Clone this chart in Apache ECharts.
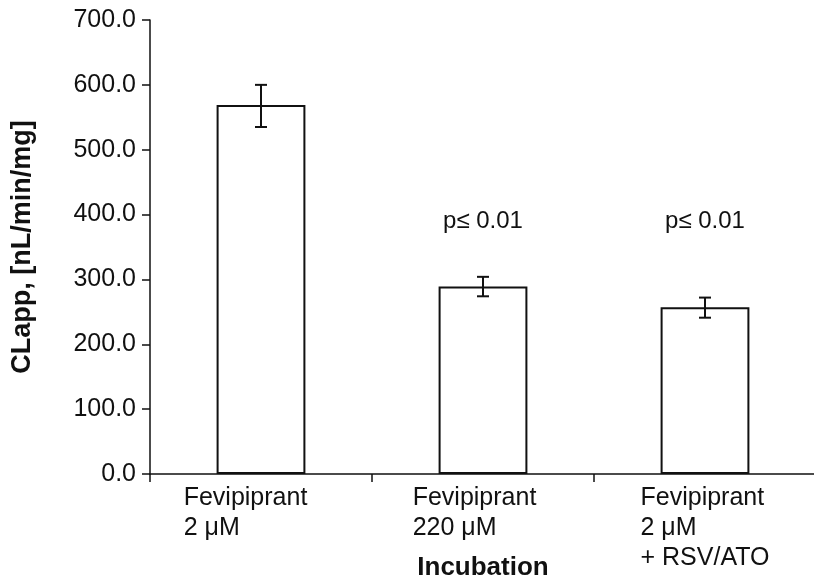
<!DOCTYPE html>
<html>
<head>
<meta charset="utf-8">
<script src="https://cdn.jsdelivr.net/npm/echarts@6/dist/echarts.min.js"></script>
<style>html,body{margin:0;padding:0;background:#fff}#c{width:814px;height:587px}</style>
</head>
<body>
<div id="c"></div>
<script>
const categories = ['Fevipiprant\n2 μM', 'Fevipiprant\n220 μM', 'Fevipiprant\n2 μM\n+ RSV/ATO'];
const values = [569, 289, 257];
const errLow = [535, 274, 241];
const errHigh = [600, 304, 272];
const pLabels = ['', 'p≤ 0.01', 'p≤ 0.01'];
const pLabelValue = 390;
const yTicks = [0, 100, 200, 300, 400, 500, 600, 700];

const FONT = '"Liberation Sans", Arial, sans-serif';
const chart = echarts.init(document.getElementById('c'));
const padR = [31, 17, 0];
const rich = {};
padR.forEach((p, i) => {
  rich['c' + i] = { fontSize: 25, lineHeight: 30, fontFamily: FONT, color: '#111', align: 'left', padding: [0, p, 0, 0] };
});

chart.setOption({
  animation: false,
  grid: { left: 150, right: -2, top: 20, bottom: 113, outerBoundsMode: 'none', containLabel: false },
  xAxis: {
    type: 'category',
    data: categories,
    name: 'Incubation',
    nameLocation: 'middle',
    nameGap: 81,
    nameMoveOverlap: false,
    nameTextStyle: { fontSize: 26, fontWeight: 'bold', fontFamily: FONT, color: '#111' },
    axisLine: { lineStyle: { color: '#111', width: 1.5 } },
    axisTick: { show: true, length: 8, lineStyle: { color: '#111', width: 1.5 } },
    axisLabel: {
      interval: 0,
      margin: 9,
      align: 'center',
      formatter: (v, i) => v.split('\n').map(s => '{c' + i + '|' + s + '}').join('\n'),
      rich: rich
    }
  },
  yAxis: {
    type: 'value',
    min: yTicks[0],
    max: yTicks[yTicks.length - 1],
    interval: 100,
    name: 'CLapp, [nL/min/mg]',
    nameLocation: 'middle',
    nameGap: 114,
    nameMoveOverlap: false,
    nameTextStyle: { fontSize: 27, fontWeight: 'bold', fontFamily: FONT, color: '#111' },
    splitLine: { show: false },
    axisLine: { show: true, lineStyle: { color: '#111', width: 1.5 } },
    axisTick: { show: true, length: 8, lineStyle: { color: '#111', width: 1.5 } },
    axisLabel: {
      margin: 14,
      fontSize: 25,
      fontFamily: FONT,
      color: '#111',
      formatter: v => v.toFixed(1)
    }
  },
  series: [
    {
      type: 'bar',
      data: values,
      barWidth: '40%',
      itemStyle: { color: '#fff', borderColor: '#111', borderWidth: 2 }
    },
    {
      type: 'custom',
      data: values.map((v, i) => [i, errLow[i], errHigh[i]]),
      renderItem: function (params, api) {
        const x = api.coord([api.value(0), 0])[0];
        const lo = api.coord([api.value(0), api.value(1)])[1];
        const hi = api.coord([api.value(0), api.value(2)])[1];
        const hw = 6;
        const st = { stroke: '#111', lineWidth: 2 };
        return {
          type: 'group',
          children: [
            { type: 'line', shape: { x1: x, y1: lo, x2: x, y2: hi }, style: st },
            { type: 'line', shape: { x1: x - hw, y1: lo, x2: x + hw, y2: lo }, style: st },
            { type: 'line', shape: { x1: x - hw, y1: hi, x2: x + hw, y2: hi }, style: st }
          ]
        };
      },
      z: 5
    },
    {
      type: 'scatter',
      symbolSize: 0,
      itemStyle: { opacity: 1 },
      data: pLabels.map((t, i) => t ? [i, pLabelValue] : null).filter(d => d),
      label: {
        show: true,
        position: 'inside',
        fontSize: 24,
        fontFamily: FONT,
        color: '#111',
        opacity: 1,
        formatter: p => pLabels[p.value[0]]
      }
    }
  ]
});
</script>
</body>
</html>
